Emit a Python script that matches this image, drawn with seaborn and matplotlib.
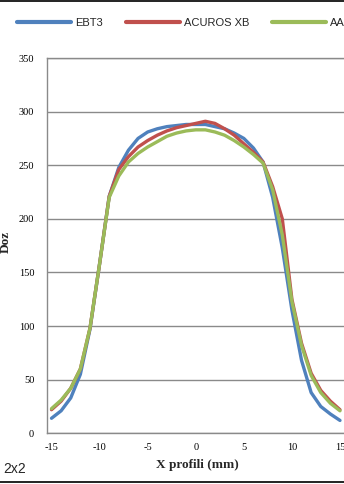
import numpy as np
import pandas as pd
import matplotlib
matplotlib.use("Agg")
import matplotlib.pyplot as plt
from matplotlib.lines import Line2D
import seaborn as sns

# Lateral dose profiles, 2x2 field
positions = list(range(-15, 16))
ebt3 = [14, 21, 33, 55, 97, 158, 221, 248, 264, 275, 281, 284, 286, 287, 288, 288,
        288, 286, 284, 280, 275, 266, 253, 220, 173, 115, 68, 38, 25, 18, 12]
acuros = [22, 30, 42, 60, 98, 158, 221, 246, 258, 267, 273, 278, 282, 285, 287, 289,
          291, 289, 284, 278, 270, 262, 253, 230, 200, 125, 84, 56, 40, 30, 22]
aaa = [23, 31, 42, 60, 98, 158, 220, 240, 253, 261, 267, 272, 277, 280, 282, 283,
       283, 281, 278, 273, 267, 260, 252, 227, 185, 123, 82, 54, 38, 28, 21]
series_names = ["EBT3", "ACUROS XB", "AAA"]
colors = ["#4F81BD", "#C0504D", "#9BBB59"]
y_ticks = list(range(0, 351, 50))
x_ticks = [-15, -10, -5, 0, 5, 10, 15]

df = pd.DataFrame({
    "x": positions * 3,
    "dose": ebt3 + acuros + aaa,
    "series": [series_names[0]] * len(positions)
    + [series_names[1]] * len(positions)
    + [series_names[2]] * len(positions),
})

sns.set_style("white")
W, H = 344, 484
fig = plt.figure(figsize=(W / 100, H / 100), dpi=100)

ax_left, ax_right = 46.7, 344.8
ax_top, ax_bottom = 58.0, 433.3
ax = fig.add_axes([ax_left / W, 1 - ax_bottom / H,
                   (ax_right - ax_left) / W, (ax_bottom - ax_top) / H])

sns.lineplot(data=df, x="x", y="dose", hue="series", hue_order=series_names,
             palette=colors, linewidth=2.4, ax=ax, legend=True)

handles, labels = ax.get_legend_handles_labels()
ax.get_legend().remove()

ax.set_xlim(-15.5, 15.5)
ax.set_ylim(0, 350)
ax.set_yticks(y_ticks)
ax.set_xticks(x_ticks)
ax.set_xticklabels([str(t) for t in x_ticks])
ax.set_yticklabels([str(t) for t in y_ticks])
ax.tick_params(axis="both", length=0, labelsize=7.5, colors="#000000")
ax.tick_params(axis="y", pad=9)
ax.tick_params(axis="x", pad=7)
for lbl in ax.get_xticklabels() + ax.get_yticklabels():
    lbl.set_fontfamily("Liberation Serif")

ax.yaxis.grid(True, color="#8a8a8a", linewidth=1.0)
ax.xaxis.grid(False)
ax.set_axisbelow(True)
for side in ["left", "bottom", "top"]:
    ax.spines[side].set_color("#8a8a8a")
    ax.spines[side].set_linewidth(1.0)
ax.spines["right"].set_visible(False)
ax.set_xlabel("")
ax.set_ylabel("")

fig.text(197 / W, 1 - 465 / H, "X profili (mm)", ha="center", va="center",
         fontsize=9.5, fontweight="bold", family="Liberation Serif")
fig.text(5.5 / W, 1 - 242 / H, "Doz", ha="center", va="center", rotation=90,
         fontsize=9.5, fontweight="bold", family="Liberation Serif")
fig.text(3 / W, 1 - 469 / H, "2x2", ha="left", va="center",
         fontsize=10, family="Liberation Sans")

leg = fig.legend(handles, labels, loc="center left",
                 bbox_to_anchor=(17 / W, 1 - 23 / H), ncol=3, frameon=False,
                 borderpad=0, borderaxespad=0, handlelength=4.86,
                 handletextpad=0.36, columnspacing=2.07,
                 prop={"family": "Liberation Sans", "size": 8})
for line in leg.get_lines():
    line.set_linewidth(3)

# frame lines across the top and bottom of the image
fig.add_artist(Line2D([0, 1], [1 - 0.8 / H, 1 - 0.8 / H], color="#222222",
                      linewidth=1.4, transform=fig.transFigure))
fig.add_artist(Line2D([0, 1], [1 - 482 / H, 1 - 482 / H], color="#222222",
                      linewidth=1.4, transform=fig.transFigure))

fig.savefig("out.png", dpi=100)
